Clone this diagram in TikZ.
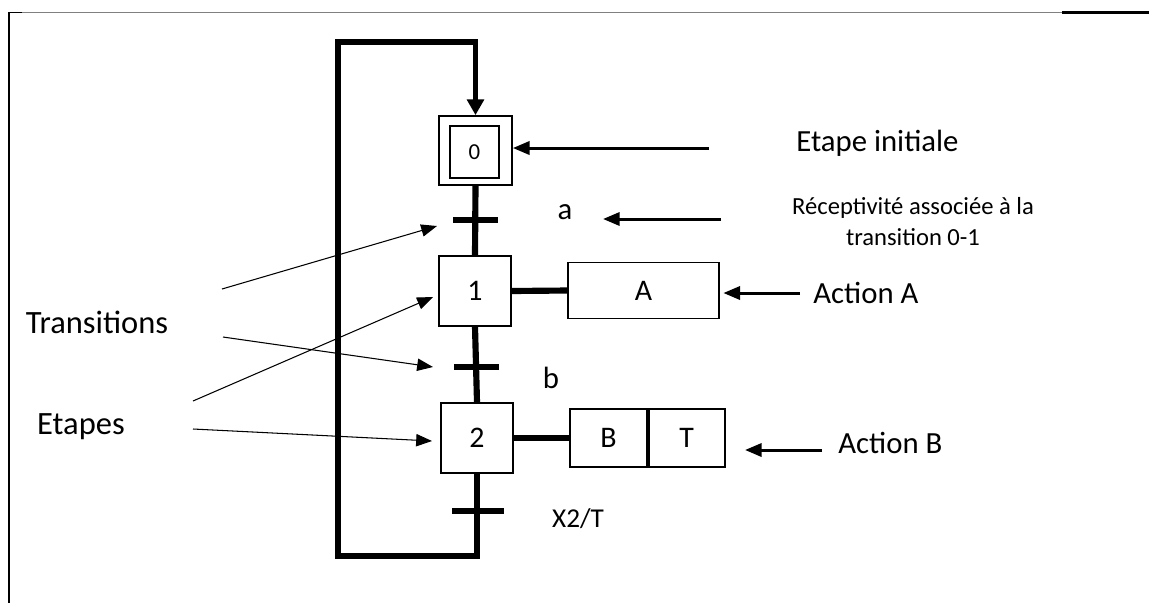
\documentclass[tikz,border=0pt]{standalone}
\usepackage{fontspec}
\setmainfont{Carlito}
\usetikzlibrary{arrows.meta,positioning}
\begin{document}
\begin{tikzpicture}[x=0.02cm,y=-0.02cm,
  etape/.style={draw, line width=1pt, minimum width=1.44cm, minimum height=1.4cm, inner sep=0pt, font=\fontsize{17}{20}\selectfont},
  transition/.style={fill=black, minimum width=0.9cm, minimum height=3pt, inner sep=0pt},
  action/.style={draw, line width=1pt, minimum height=1.12cm, inner sep=0pt, font=\fontsize{17}{20}\selectfont},
  lien/.style={line width=3.5pt},
  boucle/.style={line width=3pt, -{Triangle[length=9pt,width=9.5pt]}},
  fleche/.style={line width=1.7pt, -{Triangle[length=9.5pt,width=7.5pt]}},
  renvoi/.style={line width=0.6pt, -{Triangle[length=9pt,width=7pt]}},
  texte/.style={font=\fontsize{17.5}{21}\selectfont, inner sep=0pt}]
\useasboundingbox (0,0) rectangle (1149,603);
\draw[gray, line width=0.6pt] (9,12.5) -- (1062,12.5);
\draw[line width=1.2pt] (1062,12.5) -- (1149,12.5);
\draw[line width=1.1pt] (22,12.5) -- (9,12.5) -- (9,603);

\node[etape, minimum width=1.46cm, minimum height=1.38cm] (e0) at (475.5,150.5) {};
\node[etape, minimum width=0.98cm, minimum height=1.04cm, font=\fontsize{13}{15}\selectfont] (e0i) at (474.5,152) {0};
\node[etape] (e1) at (475,291) {1};
\node[etape] (e2) at (477,438) {2};
\node[action, minimum width=3.02cm] (actA) at (643.5,290.5) {A};
\node[action, minimum width=1.54cm, minimum height=1.16cm] (actB) at (608.5,438) {B};
\node[action, minimum width=1.52cm, minimum height=1.16cm, right=0pt of actB] (actT) {T};

\coordinate (bas) at (477,556);
\coordinate (coin) at (338,42);
\draw[lien] (e0.south) -- (e1.north) (e1.south) -- (e2.north);
\draw[boucle] (e2.south) -- (bas) -| (coin) -- (e0.north |- coin) -- (e0.north);
\draw[lien] (e1.east) -- (actA.west);
\draw[lien, line width=3pt] (e2.east) -- (actB.west);

\node[transition] (ta) at (475,220) {};
\node[transition] (tb) at (476,367) {};
\node[transition, minimum width=1.04cm] (tc) at (478,511) {};
\node[texte] (ra) at (565,212) {a};
\node[texte] (rb) at (551,378) {b};
\node[texte, font=\fontsize{15.5}{18}\selectfont] (rc) at (578,519) {X2/T};

\node[texte, anchor=west] (ti) at (796,143) {Etape initiale};
\node[texte, font=\fontsize{14}{17.6}\selectfont, align=center] (tr) at (913,222) {Réceptivité associée à la\\transition 0-1};
\node[texte, anchor=west] (tA) at (813,293) {Action A};
\node[texte, anchor=west] (tB) at (838,443) {Action B};
\coordinate (q0) at (709,148);
\coordinate (qa) at (721,219);
\coordinate (pa) at (603,219);
\coordinate (qA) at (800,293);
\coordinate (qB) at (822,450);
\coordinate (pB) at (745,450);
\draw[fleche] (q0) -- (e0.east |- q0);
\draw[fleche] (qa) -- (pa);
\draw[fleche, shorten >=2pt] (qA) -- (actA.east |- qA);
\draw[fleche] (qB) -- (pB);

\node[texte, font=\fontsize{18.5}{22}\selectfont] (trans) at (97,322) {Transitions};
\node[texte, font=\fontsize{18.5}{22}\selectfont] (etap) at (81,427) {Etapes};
\coordinate (t1) at (222,289);
\coordinate (t2) at (223,337);
\coordinate (s1) at (193,401);
\coordinate (s2) at (193,429);
\coordinate (pt1) at (437,226);
\coordinate (pt2) at (433,367);
\coordinate (ps1) at (433,297);
\coordinate (ps2) at (432,441);
\draw[renvoi] (t1) -- (pt1);
\draw[renvoi] (t2) -- (pt2);
\draw[renvoi] (s1) -- (ps1);
\draw[renvoi] (s2) -- (ps2);
\end{tikzpicture}
\end{document}
